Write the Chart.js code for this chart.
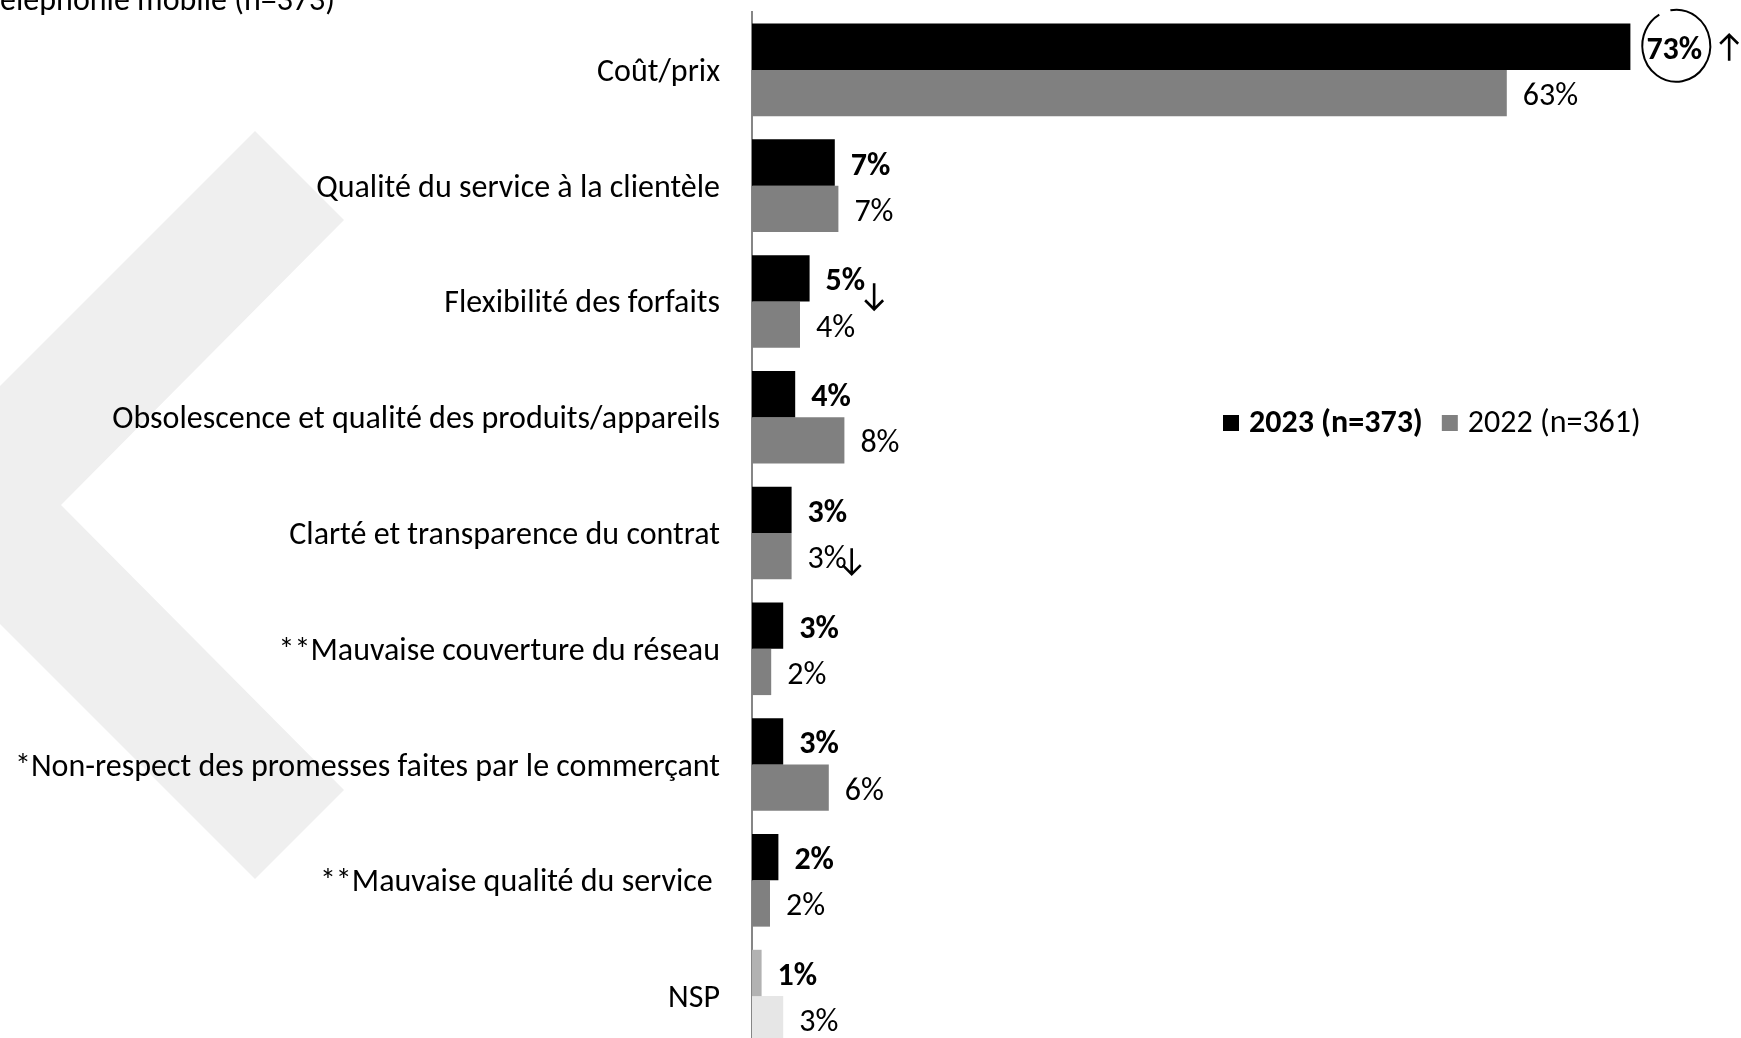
<!DOCTYPE html>
<html lang="fr">
<head>
<meta charset="utf-8">
<script src="https://cdn.jsdelivr.net/npm/chart.js@4.4.1/dist/chart.umd.min.js"></script>
<style>
  html, body { margin: 0; padding: 0; background: #fff; overflow: hidden; }
  #wrap { width: 1741px; height: 1038px; overflow: hidden; }
</style>
</head>
<body>
<div id="wrap"><canvas id="chart" width="1741" height="1060"></canvas></div>
<script>
// données
const categories = [
  'Coût/prix',
  'Qualité du service à la clientèle',
  'Flexibilité des forfaits',
  'Obsolescence et qualité des produits/appareils',
  'Clarté et transparence du contrat',
  '**Mauvaise couverture du réseau',
  '*Non-respect des promesses faites par le commerçant',
  '**Mauvaise qualité du service ',
  'NSP'
];
const values2023 = [73.2, 6.9, 4.8, 3.6, 3.3, 2.6, 2.6, 2.2, 0.8];
const values2022 = [62.9, 7.2, 4.0, 7.7, 3.3, 1.6, 6.4, 1.5, 2.6];
const labels2023 = ['73%', '7%', '5%', '4%', '3%', '3%', '3%', '2%', '1%'];
const labels2022 = ['63%', '7%', '4%', '8%', '3%', '2%', '6%', '2%', '3%'];
const seriesNames = ['2023 (n=373)', '2022 (n=361)'];
const titleText = 'Téléphonie mobile (n=373)';

// flèches de tendance : catégorie, série, sens
const arrows = [
  { cat: 0, ds: 0, dir: 'up',   dx: 16, dy: -3 },
  { cat: 2, ds: 0, dir: 'down', dx: -2, dy: 14 },
  { cat: 4, ds: 1, dir: 'down', dx: -6, dy: 1 }
];
const circled = [{ cat: 0, ds: 0 }];

const FONT = 'Carlito, Lato, sans-serif';
const FS = 32;
const c2023 = categories.map((k, i) => i === categories.length - 1 ? '#b2b2b2' : '#000000');
const c2022 = categories.map((k, i) => i === categories.length - 1 ? '#e6e6e6' : '#808080');

const bgPlugin = {
  id: 'bg',
  beforeDraw(chart) {
    const ctx = chart.ctx;
    ctx.save();
    ctx.fillStyle = '#efefef';
    ctx.beginPath();
    ctx.moveTo(255, 131);
    ctx.lineTo(344, 220);
    ctx.lineTo(61, 505);
    ctx.lineTo(344, 790);
    ctx.lineTo(255, 879);
    ctx.lineTo(-119, 505);
    ctx.closePath();
    ctx.fill();
    ctx.fillStyle = '#000';
    ctx.font = `${FS}px ${FONT}`;
    ctx.textAlign = 'right';
    ctx.textBaseline = 'alphabetic';
    ctx.fillText(titleText, 335, 10);
    ctx.restore();
  }
};

function drawArrow(ctx, cx, cy, dir) {
  const h = 13, w = 9;
  const s = dir === 'up' ? -1 : 1;
  ctx.beginPath();
  ctx.moveTo(cx, cy - s * h);
  ctx.lineTo(cx, cy + s * h);
  ctx.moveTo(cx - w, cy + s * (h - w));
  ctx.lineTo(cx, cy + s * h);
  ctx.lineTo(cx + w, cy + s * (h - w));
  ctx.stroke();
}

const labelPlugin = {
  id: 'valueLabels',
  afterDatasetsDraw(chart) {
    const ctx = chart.ctx;
    const texts = [labels2023, labels2022];
    const pos = {};
    ctx.save();
    ctx.fillStyle = '#000';
    ctx.textBaseline = 'middle';
    ctx.textAlign = 'left';
    chart.data.datasets.forEach((ds, d) => {
      const meta = chart.getDatasetMeta(d);
      ctx.font = `${d === 0 ? 'bold ' : ''}${FS}px ${FONT}`;
      meta.data.forEach((bar, i) => {
        const x = bar.x + 16, y = bar.y + 4;
        const t = texts[d][i];
        ctx.fillText(t, x, y);
        pos[d + '_' + i] = { x, y, w: ctx.measureText(t).width };
      });
    });
    // cercle autour de 73 %
    ctx.strokeStyle = '#000';
    ctx.lineWidth = 2;
    circled.forEach(c => {
      const p = pos[c.ds + '_' + c.cat];
      ctx.beginPath();
      ctx.ellipse(p.x + p.w / 2 + 2, p.y - 5, 34, 36, 0, -100 * Math.PI / 180, 240 * Math.PI / 180);
      ctx.stroke();
    });
    ctx.lineWidth = 2.6;
    arrows.forEach(a => {
      const p = pos[a.ds + '_' + a.cat];
      drawArrow(ctx, p.x + p.w + a.dx + 11, p.y + a.dy, a.dir);
    });
    ctx.restore();
  }
};

const legendPlugin = {
  id: 'legendBox',
  afterDraw(chart) {
    const ctx = chart.ctx;
    ctx.save();
    ctx.textBaseline = 'middle';
    ctx.textAlign = 'left';
    let x = 1223;
    const y = 423;
    chart.data.datasets.forEach((ds, d) => {
      ctx.fillStyle = d === 0 ? '#000000' : '#808080';
      ctx.fillRect(x, y - 8, 16, 16);
      ctx.fillStyle = '#000';
      ctx.font = `${d === 0 ? 'bold ' : ''}${FS}px ${FONT}`;
      ctx.fillText(ds.label, x + 26, y + 1);
      x += 26 + ctx.measureText(ds.label).width + 19;
    });
    ctx.restore();
  }
};

new Chart(document.getElementById('chart'), {
  type: 'bar',
  data: {
    labels: categories,
    datasets: [
      { label: seriesNames[0], data: values2023, backgroundColor: c2023, borderWidth: 0 },
      { label: seriesNames[1], data: values2022, backgroundColor: c2022, borderWidth: 0 }
    ]
  },
  options: {
    indexAxis: 'y',
    responsive: false,
    animation: false,
    devicePixelRatio: 1,
    categoryPercentage: 0.8,
    barPercentage: 1.0,
    layout: { padding: { top: 12, right: 29, bottom: 6, left: 0 } },
    plugins: { legend: { display: false }, tooltip: { enabled: false } },
    scales: {
      x: { display: false, min: 0, max: 80 },
      y: {
        grid: { display: false, drawTicks: false },
        border: { display: true, color: '#868686', width: 2 },
        ticks: { color: '#000', padding: 32, labelOffset: 3, font: { size: FS, family: FONT } },
        afterFit(scale) {
          scale.width = 752;
          scale.paddingTop = 0;
          scale.paddingBottom = 0;
        }
      }
    }
  },
  plugins: [bgPlugin, labelPlugin, legendPlugin]
});
</script>
</body>
</html>
